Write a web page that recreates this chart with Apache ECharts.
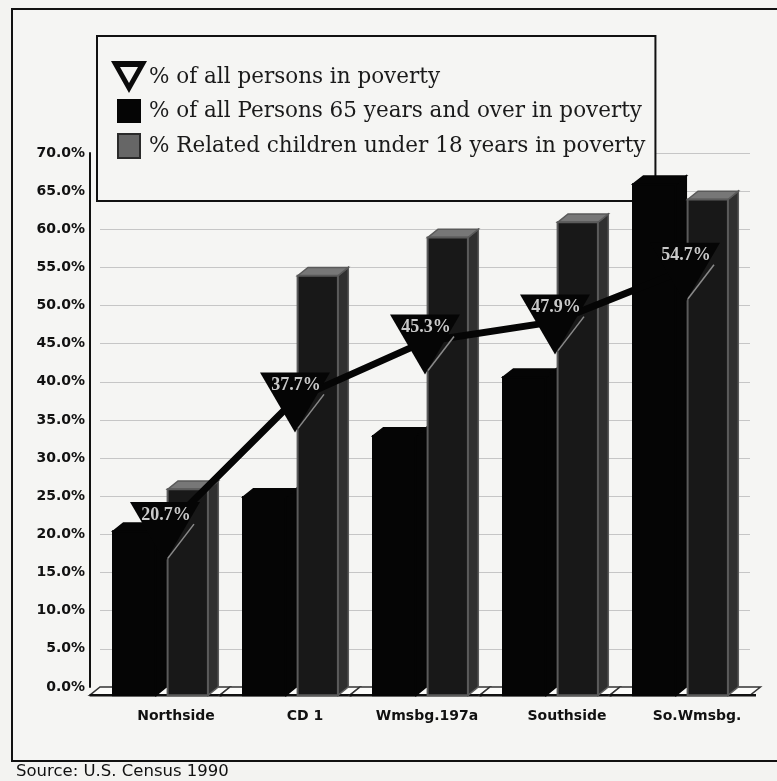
<!DOCTYPE html>
<html><head><meta charset="utf-8">
<style>html,body{margin:0;padding:0;background:#f3f3f1}#c{width:777px;height:781px}</style>
<script src="https://cdn.jsdelivr.net/npm/echarts@6/dist/echarts.min.js"></script></head>
<body><div id="c"></div>
<script>
const categories = ['Northside','CD 1','Wmsbg.197a','Southside','So.Wmsbg.'];
const allPersons = [20.7,37.7,45.3,47.9,54.7];
const elderly = [21.5,26,34,41.7,67];
const children = [27,55,60,62,65];
const labelShift = [22,20,4,24,24];
const nameLine = '% of all persons in poverty';
const nameOld = '% of all Persons 65 years and over in poverty';
const nameKid = '% Related children under 18 years in poverty';

const DEPTH = 0.08;
function box(api, idx, val, f0, f1, cols) {
  const band = api.size([1,0])[0];
  const d = band*DEPTH;
  const c = api.coord([idx,val]);
  const base = api.coord([idx,0])[1]+d*0.8;
  const top = c[1]+d*0.8;
  const x0 = c[0]+band*f0, x1 = c[0]+band*f1;
  const dy = d*0.8;
  const kids = [
    {type:'polygon',shape:{points:[[x1,top],[x1+d,top-dy],[x1+d,base-dy],[x1,base]]},style:{fill:cols.side,stroke:cols.edge,lineWidth:1.5}},
    {type:'polygon',shape:{points:[[x0,top],[x0+d,top-dy],[x1+d,top-dy],[x1,top]]},style:{fill:cols.top,stroke:cols.edge,lineWidth:1.5}},
    {type:'rect',shape:{x:x0,y:top,width:x1-x0,height:base-top},style:{fill:cols.front,stroke:cols.edge,lineWidth:2}}
  ];
  return {type:'group',children:kids};
}
const triPath = 'path://M0 0L72 0L36 60Z';
const chart = echarts.init(document.getElementById('c'),null,{renderer:'canvas'});
chart.setOption({
  animation:false,
  backgroundColor:'#f3f3f1',
  graphic:[{type:'rect',z:-1,shape:{x:12,y:9,width:775,height:752},style:{fill:'#f5f5f3',stroke:'#111',lineWidth:2}}],
  title:{text:'Source: U.S. Census 1990',left:16,top:763,padding:0,textStyle:{fontFamily:'DejaVu Sans',fontSize:16.5,fontWeight:'normal',color:'#111'}},
  legend:{
    orient:'vertical',left:97,top:36,z:3,
    padding:[25,10,38,13],itemWidth:36,itemHeight:32,itemGap:2,selectedMode:false,
    backgroundColor:'#f5f5f3',borderColor:'#111',borderWidth:2,
    textStyle:{fontFamily:'DejaVu Serif',fontSize:21.5,color:'#1a1a1a',padding:[0,0,0,-3]},
    data:[
      {name:nameLine,icon:'path://M0 0L36 0L18 32ZM9 6L18 22L27 6Z',itemStyle:{color:'#0a0a0a',borderWidth:0}},
      {name:nameOld,icon:'path://M0 0L0 0M36 32L36 32M6 4L30 4L30 28L6 28Z',itemStyle:{color:'#050505',borderWidth:0}},
      {name:nameKid,icon:'path://M0 0L0 0M36 32L36 32M7 4L29 4L29 28L7 28Z',itemStyle:{color:'#666',borderColor:'#2a2a2a',borderWidth:2}}
    ]
  },
  grid:{left:100,right:27,top:153,bottom:94},
  xAxis:{type:'category',data:categories,axisLine:{show:false},axisTick:{show:false},
    axisLabel:{margin:22,interval:0,
      formatter:(v,i)=>'{s'+i+'|'+v+'}',
      rich:Object.fromEntries(labelShift.map((s,i)=>['s'+i,{fontFamily:'DejaVu Sans',fontSize:14,color:'#111',fontWeight:'bold',
        padding:[0,0,0,s]}]))}},
  yAxis:{type:'value',min:0,max:70,interval:5,offset:10,
    axisLine:{show:true,lineStyle:{color:'#111',width:2}},
    axisTick:{show:false},
    axisLabel:{margin:5,fontFamily:'DejaVu Sans',fontSize:14,fontWeight:'bold',color:'#111',formatter:v=>v.toFixed(1)+'%'},
    splitLine:{show:true,lineStyle:{color:'#c6c6c6',width:1}}},
  series:[
    {type:'custom',z:2,silent:true,data:categories.map((c,i)=>[i,0]),encode:{x:0,y:1},
      renderItem(p,api){
        const idx=api.value(0);
        const band=api.size([1,0])[0], d=band*DEPTH, dy=d*0.8;
        const c=api.coord([idx,0]);
        const l=c[0]-band/2, r=c[0]+band/2+(idx===categories.length-1?band*0.08:0);
        const pts=[[l-d,c[1]+dy],[l,c[1]],[r,c[1]],[r-d,c[1]+dy]];
        return {type:'group',children:[
          {type:'polygon',shape:{points:pts},style:{fill:'#fbfbf9',stroke:'#333',lineWidth:1.5}},
          {type:'line',shape:{x1:l-d,y1:c[1]+dy,x2:r-d+(idx===categories.length-1?6:2),y2:c[1]+dy},style:{stroke:'#111',lineWidth:2.5}}
        ]};
      }},
    {name:nameOld,type:'custom',z:5,silent:true,data:elderly.map((v,i)=>[i,v]),encode:{x:0,y:1},
      renderItem(p,api){return box(api,api.value(0),api.value(1),-0.40,-0.07,{front:'#050505',side:'#050505',top:'#050505',edge:'#050505'});}},
    {name:nameKid,type:'custom',z:6,silent:true,data:children.map((v,i)=>[i,v]),encode:{x:0,y:1},
      renderItem(p,api){return box(api,api.value(0),api.value(1),0.02,0.33,{front:'#181818',side:'#303030',top:'#777',edge:'#5a5a5a'});}},
    {name:nameLine,type:'line',z:7,silent:true,data:allPersons,
      lineStyle:{color:'#050505',width:7},itemStyle:{color:'#050505'},
      symbol:triPath,symbolSize:[70,60],symbolOffset:[0,3],showSymbol:true,
      label:{show:true,position:'inside',offset:[1,-17],formatter:p=>p.value.toFixed(1)+'%',
        fontFamily:'Liberation Serif',fontWeight:'bold',fontSize:18,color:'#c9c9c9'}},
    {type:'custom',z:8,silent:true,data:allPersons.map((v,i)=>[i,v]),encode:{x:0,y:1},
      renderItem(p,api){
        const c=api.coord([api.value(0),api.value(1)]);
        return {type:'line',shape:{x1:c[0]+3,y1:c[1]+29,x2:c[0]+29,y2:c[1]-5},style:{stroke:'#8a8a8a',lineWidth:1.5}};
      }}
  ]
});
</script></body></html>
